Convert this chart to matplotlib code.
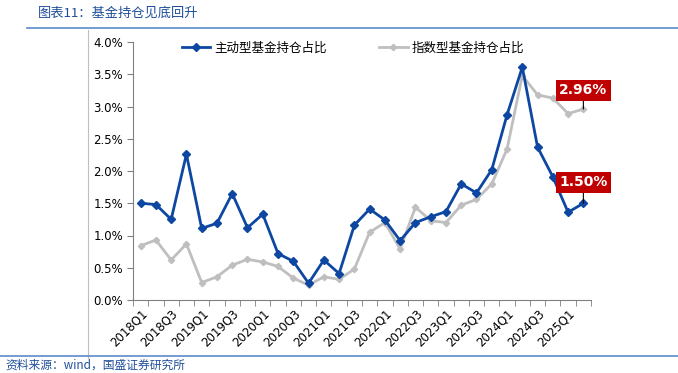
import matplotlib
matplotlib.use("Agg")
import matplotlib.pyplot as plt
from matplotlib.lines import Line2D
import numpy as np

plt.rcParams['font.family'] = ['Noto Sans CJK SC', 'DejaVu Sans']

quarters = [f"{y}Q{q}" for y in range(2018, 2026) for q in range(1, 5)][:30]
active = [1.50, 1.48, 1.25, 2.26, 1.11, 1.19, 1.65, 1.12, 1.33, 0.72,
          0.60, 0.26, 0.62, 0.41, 1.16, 1.41, 1.24, 0.92, 1.20, 1.29,
          1.37, 1.80, 1.66, 2.02, 2.87, 3.61, 2.37, 1.91, 1.36, 1.50]
index = [0.84, 0.93, 0.62, 0.87, 0.27, 0.36, 0.54, 0.63, 0.59, 0.52,
         0.34, 0.23, 0.36, 0.32, 0.48, 1.05, 1.20, 0.79, 1.44, 1.23,
         1.20, 1.47, 1.56, 1.80, 2.34, 3.48, 3.18, 3.13, 2.89, 2.96]
series_names = ["主动型基金持仓占比", "指数型基金持仓占比"]
yticks = [0.0, 0.5, 1.0, 1.5, 2.0, 2.5, 3.0, 3.5, 4.0]

fig = plt.figure(figsize=(6.78, 3.73), dpi=100)
W, H = 678, 373
ax = fig.add_axes([133/W, 1-300/H, (591-133)/W, (300-42)/H])

x = np.arange(len(quarters))
gray = '#BFBFBF'
blue = '#0D47A1'
ax.plot(x, index, color=gray, lw=2.0, marker='D', ms=3.2, mfc=gray, mec=gray,
        label=series_names[1], zorder=2)
ax.plot(x, active, color=blue, lw=2.0, marker='D', ms=4.5, mfc=blue, mec=blue,
        label=series_names[0], zorder=3)

ax.set_xlim(-0.5, len(quarters)-0.5)
ax.set_ylim(0, 4.0)
ax.set_yticks(yticks)
ax.set_yticklabels([f"{v:.1f}%" for v in yticks], fontsize=8.5, family='DejaVu Sans')
ax.set_xticks(x[::2])
ax.set_xticklabels(quarters[::2], rotation=45, ha='right', rotation_mode='anchor',
                   fontsize=8.5, family='DejaVu Sans')
ax.set_xticks(np.arange(-0.5, len(quarters)), minor=True)
ax.tick_params(axis='x', which='major', length=0, pad=5)
ax.tick_params(axis='x', which='minor', length=4, color='#808080', direction='out')
ax.tick_params(axis='y', length=4, color='#808080', pad=3)
for s in ['top', 'right']:
    ax.spines[s].set_visible(False)
for s in ['left', 'bottom']:
    ax.spines[s].set_color('#808080')
    ax.spines[s].set_linewidth(0.8)

# labels for last points
for vals, txt_off in [(index, 19), (active, 21)]:
    ax.annotate(f"{vals[-1]:.2f}%", xy=(x[-1], vals[-1]), xytext=(0, txt_off),
                textcoords='offset pixels', ha='center', va='center',
                fontsize=10, fontweight='bold', color='white', family='DejaVu Sans',
                bbox=dict(boxstyle='square,pad=0.25', fc='#C00000', ec='none'),
                arrowprops=dict(arrowstyle='-', color='black', lw=0.8,
                                shrinkA=0, shrinkB=0), zorder=5)

h, l = ax.get_legend_handles_labels()
leg = ax.legend(h[::-1], l[::-1], loc='upper center', bbox_to_anchor=(0.48, 1.045),
                ncol=2, frameon=False, fontsize=9, columnspacing=4.2,
                handlelength=2.3, handletextpad=0.3)

# decorations
fig.text(38/W, 1-13/H, "图表11：基金持仓见底回升", fontsize=9.5, style='italic',
         color='#1F4E9A', va='center', ha='left')
fig.add_artist(Line2D([27/W, 1.0], [1-28/H, 1-28/H], color='#5B8BC9', lw=1.2))
fig.add_artist(Line2D([88/W, 88/W], [1-30/H, 1-358/H], color='#BFBFBF', lw=0.8))
fig.add_artist(Line2D([0.0, 1.0], [1-356/H, 1-356/H], color='#5B8BC9', lw=1.2))
fig.text(5/W, 1-365/H, "资料来源：wind，国盛证券研究所", fontsize=8.5, style='italic',
         color='#1F4E9A', va='center', ha='left')

fig.savefig("out.png", dpi=100)
